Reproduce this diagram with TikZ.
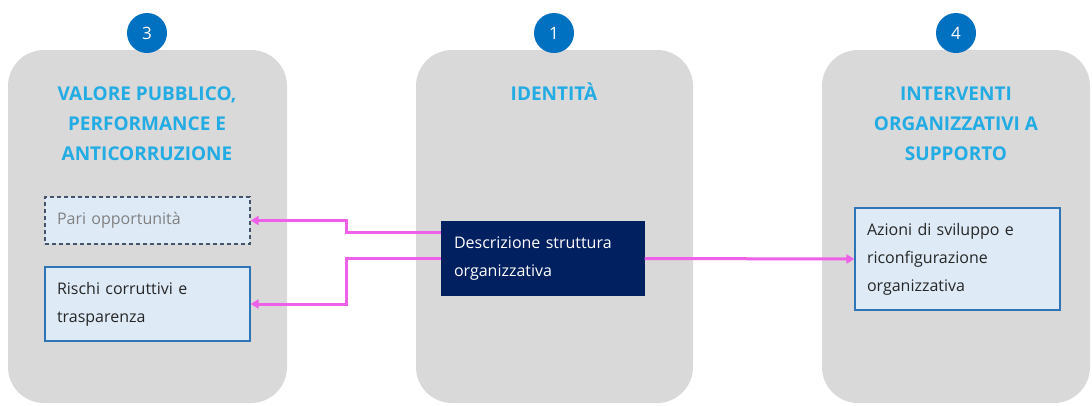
\documentclass[tikz,border=0pt]{standalone}
\usepackage{fontspec}
\setmainfont{Open Sans}
\usepackage{tikz}
\usetikzlibrary{arrows.meta}
\usepackage{xcolor}
\definecolor{panelgray}{RGB}{217,217,217}
\definecolor{numblue}{RGB}{0,112,192}
\definecolor{titleblue}{RGB}{35,172,228}
\definecolor{boxfill}{RGB}{222,235,247}
\definecolor{boxline}{RGB}{46,117,182}
\definecolor{dashline}{RGB}{68,84,106}
\definecolor{navy}{RGB}{0,32,96}
\definecolor{linkpink}{RGB}{238,96,232}

\begin{document}
\begin{tikzpicture}[x=1pt,y=-1pt,
    panel/.style={fill=panelgray,rounded corners=36pt,minimum width=#1,minimum height=353pt,inner sep=0pt},
    num/.style={circle,fill=numblue,text=white,minimum size=40pt,inner sep=0pt,font=\fontsize{17}{17}\selectfont},
    heading/.style={text=titleblue,align=center,font=\fontsize{19}{30}\selectfont\bfseries,inner sep=0pt,anchor=base},
    item/.style={fill=boxfill,draw=boxline,line width=1.2pt,text width=181pt,inner xsep=12pt,inner ysep=0pt,align=left,font=\fontsize{16}{28}\selectfont,text=black!85},
    link/.style={draw=linkpink,line width=3pt,-{Triangle[length=8pt,width=9pt]}}
]
    \useasboundingbox (0,0) rectangle (1092,405);
    \node[panel=279pt] (pv) at (147.5,226.5) {};
    \node[panel=277pt] (pi) at (554.5,226.5) {};
    \node[panel=268pt] (pa) at (956,226.5) {};
    \node[num] (n3) at (147,33) {3};
    \node[num] (n1) at (554,33) {1};
    \node[num] (n4) at (956,33) {4};
    \node[heading] (tv) at (147,160) {VALORE PUBBLICO,\\PERFORMANCE E\\ANTICORRUZIONE};
    \node[heading] (ti) at (554,100) {IDENTITÀ};
    \node[heading] (ta) at (956,160) {INTERVENTI\\ORGANIZZATIVI A\\SUPPORTO};
    \node[item,draw=dashline,dashed,dash pattern=on 4pt off 3pt,text=gray,minimum height=47pt] (pari) at (147.5,220.5) {Pari opportunità};
    \node[item,minimum height=74pt] (risk) at (147.5,304) {Rischi corruttivi e\\trasparenza};
    \node[item,fill=navy,draw=navy,text=white,text width=178pt,minimum height=73pt] (desc) at (543,258.5) {Descrizione struttura\\organizzativa};
    \node[item,minimum height=102pt] (act) at (957.5,259) {Azioni di sviluppo e\\riconfigurazione\\organizzativa};
    \draw[link] ([yshift=26pt]desc.west) -- ++(-95,0) |- (pari.east);
    \draw[link] (desc.west) -- ++(-95,0) |- (risk.east);
    \draw[link] (desc.east) -- (act.west);
\end{tikzpicture}
\end{document}
